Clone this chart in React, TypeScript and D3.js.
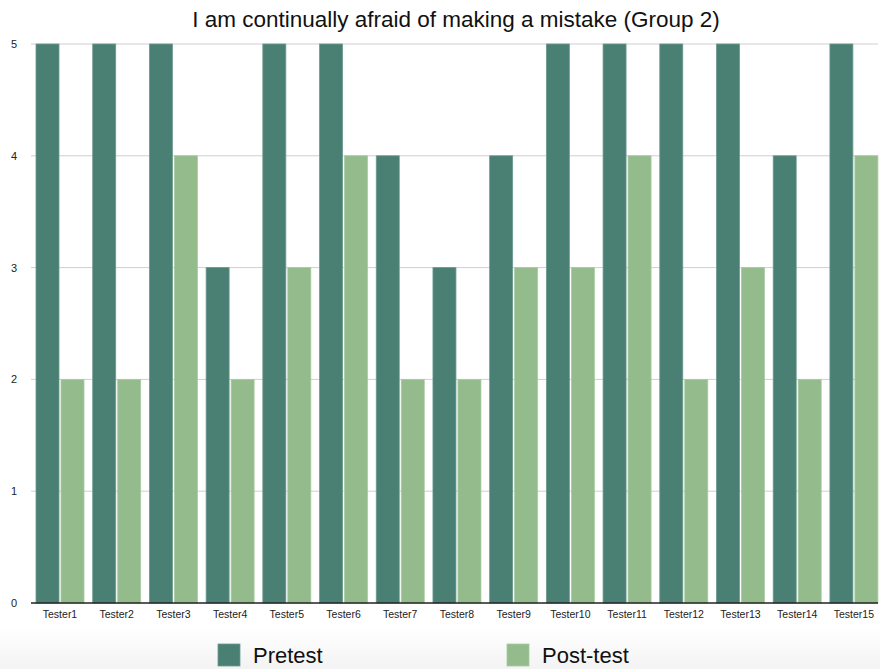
import React from "react";
import * as d3 from "d3";

const categories = ["Tester1","Tester2","Tester3","Tester4","Tester5","Tester6","Tester7","Tester8","Tester9","Tester10","Tester11","Tester12","Tester13","Tester14","Tester15"];
const pretest = [5,5,5,3,5,5,4,3,4,5,5,5,5,4,5];
const posttest = [2,2,4,2,3,4,2,2,3,3,4,2,3,2,4];
const seriesNames = ["Pretest","Post-test"];
const yTicks = [0,1,2,3,4,5];

const W = 880, H = 669;
const left = 31, gridRight = 878, top = 44, bottom = 603;
const colors = ["#4a7f74", "#93bb8b"];
const strokes = ["#6c9a90", "#a9cba1"];

export default function App() {
  const x = d3.scaleBand<string>().domain(categories).range([left, 882.9]).paddingInner(0.1536).paddingOuter(0.0882);
  const x1 = d3.scaleBand<string>().domain(seriesNames).range([0, x.bandwidth()]).paddingInner(0.08);
  const y = d3.scaleLinear().domain([0, 5]).range([bottom, top]);
  const series = [pretest, posttest];
  return (
    <svg width={W} height={H} style={{ position: "absolute", left: 0, top: 0, fontFamily: "'Liberation Sans', Arial, sans-serif" }}>
      <defs>
        <linearGradient id="lg" x1="0" y1="0" x2="0" y2="1">
          <stop offset="0" stopColor="#ffffff" />
          <stop offset="1" stopColor="#f3f3f3" />
        </linearGradient>
      </defs>
      <rect x={0} y={0} width={W} height={H} fill="#fff" />
      <rect x={0} y={628} width={W} height={41} fill="url(#lg)" />
      <text x={456} y={27} textAnchor="middle" fontSize={22.5} fill="#111">I am continually afraid of making a mistake (Group 2)</text>
      {yTicks.map(t => (
        <g key={t}>
          {t > 0 && <line x1={left} x2={gridRight} y1={y(t)} y2={y(t)} stroke="#cfcfcf" strokeWidth={1} />}
          <text x={14} y={y(t) + 4} textAnchor="middle" fontSize={11} fill="#222">{t}</text>
        </g>
      ))}
      {categories.map((c, i) => (
        <g key={c}>
          {series.map((s, j) => (
            <rect key={j} x={(x(c) as number) + (x1(seriesNames[j]) as number)} y={y(s[i])}
              width={x1.bandwidth()} height={bottom - y(s[i])} fill={colors[j]} stroke={strokes[j]} strokeWidth={0.8} />
          ))}
          <text x={(x(c) as number) + x.bandwidth() / 2} y={618} textAnchor="middle" fontSize={10.5} fill="#222">{c}</text>
        </g>
      ))}
      <line x1={left} x2={gridRight} y1={bottom} y2={bottom} stroke="#222" strokeWidth={1.5} />
      {seriesNames.map((n, j) => {
        const lx = j === 0 ? 218 : 507;
        return (
          <g key={n}>
            <rect x={lx} y={644} width={22} height={22} fill={colors[j]} stroke={strokes[j]} strokeWidth={0.8} />
            <text x={lx + 35} y={663} fontSize={22} fill="#111">{n}</text>
          </g>
        );
      })}
    </svg>
  );
}
